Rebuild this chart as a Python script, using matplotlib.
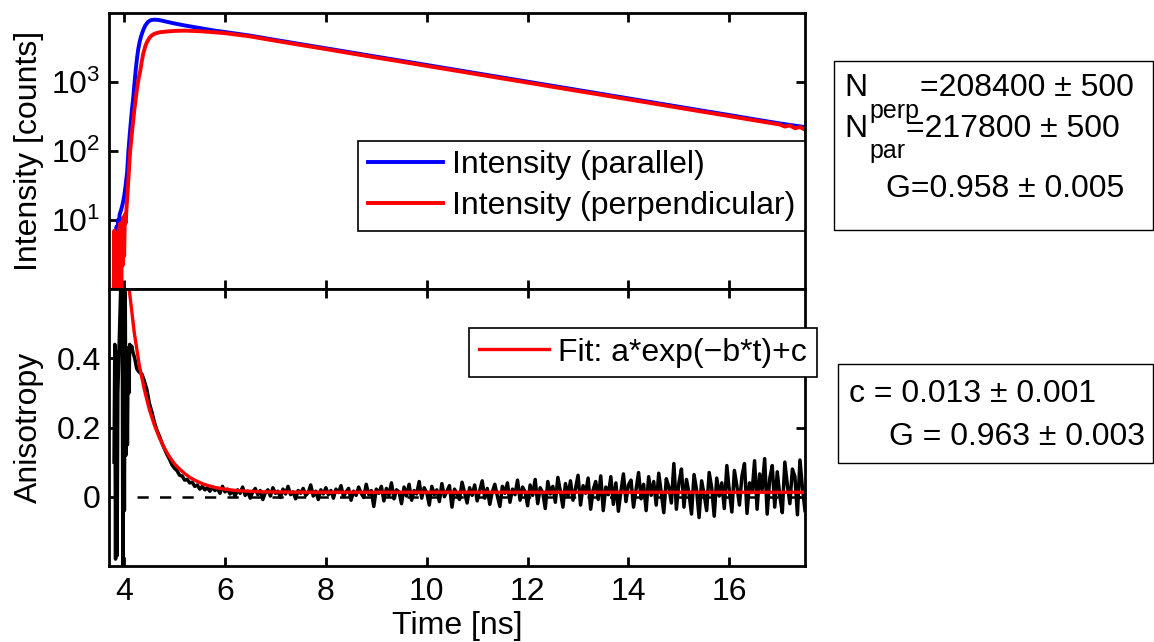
import numpy as np
import matplotlib
matplotlib.use('Agg')
import matplotlib.pyplot as plt
from matplotlib.patches import Rectangle
from matplotlib.ticker import NullLocator

plt.rcParams['font.family'] = ['Liberation Sans', 'DejaVu Sans']
plt.rcParams['font.size'] = 23

# Intensity (parallel)
blue_t = [3.80, 3.82, 3.835, 3.85, 3.865, 3.88, 3.895, 3.91, 3.94, 3.97, 4.00,
          4.03, 4.06, 4.085, 4.11, 4.13, 4.155, 4.18, 4.205, 4.23, 4.255, 4.28,
          4.31, 4.34, 4.38, 4.42, 4.47, 4.53, 4.60, 4.67, 4.75, 4.85, 5.0, 5.2,
          5.5, 5.8, 6.0, 6.5, 7.0, 7.5, 8.0, 8.5, 9.0, 9.5, 10.0, 10.5, 11.0,
          11.5, 12.0, 12.5, 13.0, 13.5, 14.0, 14.5, 15.0, 15.5, 16.0, 16.5,
          17.0, 17.5]
blue_I = [3.5, 6, 4, 8, 6, 10, 8, 12, 14, 17, 22,
          32, 50, 100, 170, 250, 400, 590, 950, 1500, 2200, 3000,
          3900, 4700, 5700, 6600, 7400, 7900, 8000, 7950, 7750, 7450, 7050, 6600,
          6050, 5550, 5300, 4700, 4070, 3540, 3080, 2680, 2330, 2030, 1765, 1535, 1335,
          1162, 1011, 879, 765, 666, 579, 504, 438, 381, 332, 288,
          251, 222]

# Intensity (perpendicular)
red_t = [3.79, 3.805, 3.82, 3.835, 3.85, 3.865, 3.88, 3.895, 3.91, 3.925, 3.94,
         3.955, 3.97, 3.985, 4.00, 4.015, 4.03, 4.05, 4.07, 4.09, 4.11, 4.12,
         4.16, 4.20, 4.25, 4.29, 4.32, 4.35, 4.38, 4.42, 4.45, 4.50, 4.55, 4.60,
         4.70, 4.85, 5.0, 5.2, 5.5, 5.8, 6.0, 6.5, 7.0, 7.5, 8.0, 8.5, 9.0, 9.5,
         10.0, 10.5, 11.0, 11.5, 12.0, 12.5, 13.0, 13.5, 14.0, 14.5, 15.0, 15.5,
         16.0, 16.5, 17.0, 17.1, 17.2, 17.3, 17.4, 17.5]
red_I = [0.4, 7, 1.5, 6.5, 0.3, 5, 1.2, 7.5, 3, 9, 0.3,
         8, 2.2, 11, 3, 12, 9, 16, 26, 45, 80, 100,
         200, 380, 750, 1150, 1450, 2000, 2600, 3300, 3750, 4350, 4750, 5000,
         5250, 5400, 5500, 5550, 5450, 5250, 5100, 4580, 3960, 3440, 3000, 2600, 2260, 1970,
         1710, 1490, 1295, 1125, 980, 850, 740, 645, 560, 487, 423, 368,
         320, 278, 242, 226, 234, 214, 222, 204]

# Anisotropy: first ns (noisy rise)
aniso_early_t = [3.80, 3.815, 3.83, 3.845, 3.86, 3.875, 3.96, 3.975, 3.99, 4.005,
                 4.02, 4.035, 4.05, 4.065, 4.08, 4.095, 4.11, 4.13, 4.15, 4.17,
                 4.19, 4.21, 4.23, 4.25, 4.27]
aniso_early_r = [0.10, 0.44, -0.18, 0.42, -0.17, 0.30, 0.75, -0.25, 0.70, -0.04,
                 0.65, 0.12, 0.42, 0.15, 0.43, 0.30, 0.44, 0.42, 0.435, 0.42,
                 0.41, 0.40, 0.385, 0.37, 0.365]

# Anisotropy: 4.30 ... 17.50 ns, every 0.05 ns
aniso_r = [
    0.36, 0.355, 0.335, 0.31, 0.27, 0.245, 0.215, 0.192, 0.175, 0.155,
    0.138, 0.122, 0.108, 0.092, 0.082, 0.075, 0.062, 0.060, 0.048, 0.050,
    0.040, 0.042, 0.030, 0.034, 0.022, 0.030, 0.020, 0.026, 0.016, 0.028,
    0.018, 0.024, 0.010, 0.030, 0.014,
    0.022, 0.008, 0.018, 0.002, 0.020, 0.010, 0.028, 0.004, 0.016, -0.004,
    0.014, 0.024, 0.006, 0.018, -0.008, 0.012, 0.020, 0.002, 0.026, 0.010,
    0.016, -0.002, 0.022, 0.008, 0.030, 0.006, 0.014, -0.006, 0.018, 0.010,
    0.024, 0.004, 0.012, 0.034, 0.002, 0.016, -0.008, 0.020, 0.008, 0.026,
    0.006, 0.018, -0.004, 0.022, 0.012, 0.032, 0.000, 0.014, 0.024, -0.010,
    0.016, 0.004, 0.028, 0.010, -0.002, 0.036, 0.006, 0.018, -0.028, 0.022,
    0.010, 0.030, -0.012, 0.024, 0.004, 0.040, -0.006, 0.020, 0.014, -0.020,
    0.028, 0.002, 0.036, -0.010, 0.018, 0.008, 0.044, -0.004, 0.026, 0.012,
    -0.024, 0.030, 0.006, 0.020, -0.014, 0.038, 0.000, 0.016, 0.032, -0.030,
    0.022, 0.008, -0.008, 0.042, 0.012, -0.018, 0.026, 0.004, 0.034, -0.012,
    0.018, 0.046, -0.004, 0.024, -0.022, 0.014, 0.036, 0.002, -0.028, 0.030,
    0.010, 0.040, -0.016, 0.022, 0.006, 0.048, -0.010, 0.028, 0.014, -0.026,
    0.034, 0.004, 0.050, -0.020, 0.026, 0.012, -0.034, 0.044, 0.008, 0.030,
    -0.016, 0.056, 0.016, -0.030, 0.038, 0.002, 0.046, -0.010, 0.024, 0.062,
    -0.024, 0.032, 0.010, 0.054, -0.036, 0.020, 0.044, -0.008, 0.060, -0.040,
    0.028, 0.006, 0.058, -0.022, 0.040, -0.042, 0.016, 0.066, -0.014, 0.034,
    0.048, -0.030, 0.020, 0.070, -0.006, 0.036, -0.040, 0.058, 0.004, 0.044,
    -0.024, 0.068, 0.012, -0.046, 0.052, 0.028, -0.018, 0.096, -0.036, 0.040,
    0.080, -0.030, 0.050, 0.010, -0.050, 0.064, 0.020, -0.060, 0.046, 0.006,
    -0.040, 0.070, 0.026, -0.056, 0.054, 0.002, 0.040, -0.034, 0.090, 0.016,
    -0.044, 0.076, 0.030, -0.024, 0.060, 0.096, -0.048, 0.040, 0.012, 0.104,
    -0.036, 0.066, 0.020, 0.110, -0.050, 0.052, 0.090, -0.030, 0.072, 0.004,
    -0.046, 0.100, 0.034, -0.020, 0.080, 0.058, -0.052, 0.106, 0.024, -0.040,
]
aniso_t = np.linspace(4.30, 17.50, len(aniso_r))

# Fit: a*exp(-b*t)+c
fit_t = [4.00, 4.10, 4.20, 4.30, 4.40, 4.50, 4.60, 4.70, 4.80, 4.90, 5.00,
         5.10, 5.20, 5.30, 5.40, 5.50, 5.60, 5.70, 5.80, 5.90, 6.00, 6.15,
         6.30, 6.45, 6.60, 6.80, 7.00, 7.50, 8.00, 17.50]
fit_r = [0.74, 0.60, 0.475, 0.38, 0.31, 0.252, 0.207, 0.170, 0.140, 0.115, 0.095,
         0.080, 0.067, 0.056, 0.048, 0.041, 0.035, 0.031, 0.027, 0.024, 0.022, 0.019,
         0.017, 0.016, 0.015, 0.014, 0.0137, 0.0133, 0.013, 0.013]

x_ticks = [4, 6, 8, 10, 12, 14, 16]

W, H = 1154, 642
fig = plt.figure(figsize=(W / 100, H / 100), dpi=100)


def px(x0, y0, x1, y1):
    return [x0 / W, 1 - y1 / H, (x1 - x0) / W, (y1 - y0) / H]


ax1 = fig.add_axes(px(109, 13, 805, 289))
ax2 = fig.add_axes(px(109, 289, 805, 566))

for ax in (ax1, ax2):
    for s in ax.spines.values():
        s.set_linewidth(2)
    ax.tick_params(direction='in', length=6.5, width=2, top=True, right=True,
                   labelsize=23)
    ax.tick_params(axis='x', pad=8)
    ax.tick_params(axis='y', pad=6)
    ax.set_xlim(3.7, 17.5)
    ax.set_xticks(x_ticks)

# top panel
ax1.semilogy(blue_t, blue_I, color='blue', lw=2.8, label='Intensity (parallel)')
ax1.semilogy(red_t, red_I, color='red', lw=2.8, label='Intensity (perpendicular)')
ax1.set_ylim(1, 1e4)
ax1.set_yticks([10, 100, 1000])
ax1.yaxis.set_minor_locator(NullLocator())
ax1.tick_params(axis='x', labelbottom=False)
ax1.set_ylabel('Intensity [counts]')
ax1.yaxis.set_label_coords(-0.094, 0.5)
leg1 = ax1.legend(loc='upper right', bbox_to_anchor=(805 / W, 1 - 141 / H),
                  bbox_transform=fig.transFigure, borderaxespad=0,
                  fancybox=False, edgecolor='black', framealpha=1,
                  handlelength=2.35, handletextpad=0.3, borderpad=0.29,
                  labelspacing=0.35, fontsize=23)
leg1.get_frame().set_linewidth(1.2)

# bottom panel
ax2.plot([4.25, 17.5], [0, 0], color='black', lw=1.8, dashes=(4.5, 4.5))
ax2.plot(aniso_early_t + list(aniso_t), aniso_early_r + aniso_r,
         color='black', lw=2.5)
ax2.plot(fit_t, fit_r, color='red', lw=2.4, label='Fit: a*exp(\u2212b*t)+c')
ax2.set_ylim(-0.2, 0.6)
ax2.set_yticks([0, 0.2, 0.4])
ax2.set_yticklabels(['0', '0.2', '0.4'])
ax2.set_ylabel('Anisotropy')
ax2.yaxis.set_label_coords(-0.094, 0.5)
ax2.set_xlabel('Time [ns]')
ax2.xaxis.set_label_coords(0.5, -0.163)
leg2 = ax2.legend(loc='upper left', bbox_to_anchor=(469 / W, 1 - 328 / H),
                  bbox_transform=fig.transFigure, borderaxespad=0,
                  fancybox=False, edgecolor='black', framealpha=1,
                  handlelength=2.2, handletextpad=0.3, borderpad=0.3,
                  fontsize=23)
leg2.get_frame().set_linewidth(1.2)

# text boxes on the right
for x0, y0, x1, y1 in [(834, 61, 1152.5, 230), (838, 364, 1152.5, 463)]:
    fig.patches.append(Rectangle((x0 / W, 1 - y1 / H), (x1 - x0) / W, (y1 - y0) / H,
                                 transform=fig.transFigure, fill=False,
                                 edgecolor='black', lw=1.0))


def ftext(x, y, s, size=23):
    fig.text(x / W, 1 - y / H, s, fontsize=size, va='baseline', ha='left')


ftext(844, 96, 'N')
ftext(869, 118, 'perp', 18)
ftext(920, 96, '=208400 \u00b1 500')
ftext(844, 137, 'N')
ftext(869, 158, 'par', 18)
ftext(906, 137, '=217800 \u00b1 500')
ftext(886, 197, 'G=0.958 \u00b1 0.005')

ftext(849, 402, 'c = 0.013 \u00b1 0.001')
ftext(889, 445, 'G = 0.963 \u00b1 0.003')

fig.savefig('out.png', dpi=100)
